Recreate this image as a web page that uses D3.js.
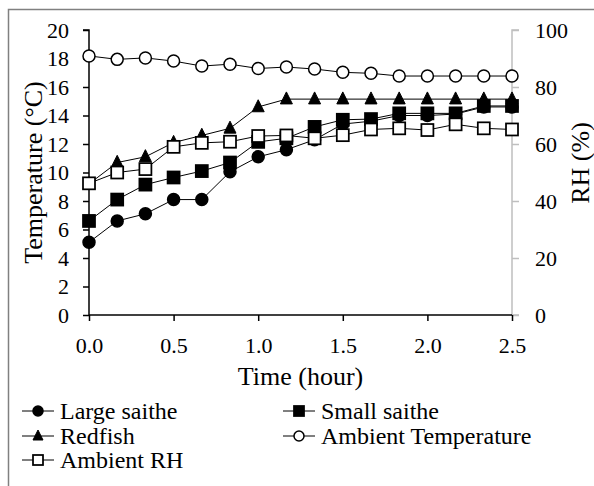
<!DOCTYPE html>
<html><head><meta charset="utf-8">
<script src="https://cdn.jsdelivr.net/npm/d3@7"></script>
</head><body style="margin:0">
<svg id="c" width="594" height="486"></svg>
<script>
const time = [0, 1/6, 2/6, 3/6, 4/6, 5/6, 1, 7/6, 8/6, 9/6, 10/6, 11/6, 2, 13/6, 14/6, 2.5];
const largeSaithe = [5.1, 6.6, 7.1, 8.1, 8.1, 10.05, 11.1, 11.6, 12.3, 13.4, 13.6, 14.0, 14.0, 14.1, 14.6, 14.6];
const smallSaithe = [6.6, 8.1, 9.15, 9.65, 10.1, 10.7, 12.15, 12.4, 13.2, 13.7, 13.75, 14.15, 14.15, 14.15, 14.67, 14.67];
const redfish = [9.2, 10.7, 11.1, 12.1, 12.6, 13.1, 14.6, 15.15, 15.15, 15.15, 15.15, 15.15, 15.15, 15.15, 15.15, 15.15];
const ambientTemp = [18.18, 17.94, 18.04, 17.82, 17.47, 17.6, 17.3, 17.4, 17.26, 17.03, 16.96, 16.77, 16.77, 16.77, 16.77, 16.77];
const ambientRH = [46.2, 50.0, 51.2, 59.0, 60.4, 60.8, 62.8, 63.0, 62.0, 63.1, 65.1, 65.5, 64.9, 66.9, 65.5, 65.1];
const xTicks = [0, 0.5, 1.0, 1.5, 2.0, 2.5];
const yLeftTicks = [0, 2, 4, 6, 8, 10, 12, 14, 16, 18, 20];
const yRightTicks = [0, 20, 40, 60, 80, 100];
const seriesNames = ["Large saithe", "Small saithe", "Redfish", "Ambient Temperature", "Ambient RH"];

const FONT = '"Liberation Serif"';
const svg = d3.select("#c");

// outer border
svg.append("rect").attr("x", 8.5).attr("y", 9.5).attr("width", 640).attr("height", 540)
  .attr("fill", "none").attr("stroke", "#808080").attr("stroke-width", 1.5);

const x = d3.scaleLinear().domain([0, 2.5]).range([89, 512]);
const yL = d3.scaleLinear().domain([0, 20]).range([315, 30]);
const yR = d3.scaleLinear().domain([0, 100]).range([315, 30]);

function styleText(sel, size) {
  sel.style("font-family", FONT).style("font-size", size + "px").attr("fill", "#000");
  return sel;
}

// right axis (gray)
const gR = svg.append("g").attr("transform", "translate(512,0)")
  .call(d3.axisRight(yR).tickValues(yRightTicks).tickSize(7).tickPadding(16).tickFormat(d3.format("d")));
gR.selectAll("path,line").attr("stroke", "#bfbfbf").attr("stroke-width", 1.5);
gR.select("path").attr("d", "M7,30H0V315H7");
styleText(gR.selectAll("text"), 22);

// bottom axis
const gB = svg.append("g").attr("transform", "translate(0,315)")
  .call(d3.axisBottom(x).tickValues(xTicks).tickSize(6).tickPadding(16).tickFormat(d3.format(".1f")));
gB.selectAll("path,line").attr("stroke", "#000").attr("stroke-width", 1.5);
gB.select("path").attr("d", "M89,0H512");
styleText(gB.selectAll("text"), 22);

// left axis
const gL = svg.append("g").attr("transform", "translate(89,0)")
  .call(d3.axisLeft(yL).tickValues(yLeftTicks).tickSize(6).tickPadding(14));
gL.selectAll("path,line").attr("stroke", "#000").attr("stroke-width", 1.5);
gL.select("path").attr("d", "M-6,30H0V315");
styleText(gL.selectAll("text"), 22);

// axis titles
styleText(svg.append("text").attr("transform", "translate(42,172.5) rotate(-90)").attr("text-anchor", "middle")
  .text("Temperature (°C)"), 26);
styleText(svg.append("text").attr("transform", "translate(589,163) rotate(-90)").attr("text-anchor", "middle")
  .text("RH (%)"), 26);
styleText(svg.append("text").attr("x", 300.5).attr("y", 385).attr("text-anchor", "middle")
  .text("Time (hour)"), 26);

function marker(g, type, cx, cy, s) {
  if (type === "circleF" || type === "circleO") {
    g.append("circle").attr("cx", cx).attr("cy", cy).attr("r", s / 2)
      .attr("fill", type === "circleF" ? "#000" : "#fff").attr("stroke", "#000").attr("stroke-width", 1.5);
  } else if (type === "squareF" || type === "squareO") {
    g.append("rect").attr("x", cx - s / 2).attr("y", cy - s / 2).attr("width", s).attr("height", s)
      .attr("fill", type === "squareF" ? "#000" : "#fff").attr("stroke", "#000").attr("stroke-width", 1.75);
  } else if (type === "tri") {
    const h = s;
    g.append("path").attr("d", `M${cx},${cy - h * 0.6}L${cx + s / 2},${cy + h * 0.4}L${cx - s / 2},${cy + h * 0.4}Z`)
      .attr("fill", "#000").attr("stroke", "#000").attr("stroke-width", 1);
  }
}

const series = [
  { name: seriesNames[0], vals: largeSaithe, y: yL, m: "circleF" },
  { name: seriesNames[1], vals: smallSaithe, y: yL, m: "squareF" },
  { name: seriesNames[2], vals: redfish, y: yL, m: "tri" },
  { name: seriesNames[3], vals: ambientTemp, y: yL, m: "circleO" },
  { name: seriesNames[4], vals: ambientRH, y: yR, m: "squareO" }
];

const plot = svg.append("g");
series.forEach(s => {
  const g = plot.append("g");
  const line = d3.line().x((d, i) => x(time[i])).y(d => s.y(d));
  g.append("path").datum(s.vals).attr("d", line).attr("fill", "none").attr("stroke", "#000").attr("stroke-width", 1);
  s.vals.forEach((v, i) => marker(g, s.m, x(time[i]), s.y(v), 12));
});

// legend
const legPos = [[22, 411], [283, 411], [22, 436], [283, 436], [22, 460]];
series.forEach((s, i) => {
  const [lx, ly] = legPos[i];
  const g = svg.append("g");
  g.append("line").attr("x1", lx).attr("x2", lx + 32).attr("y1", ly).attr("y2", ly).attr("stroke", "#000").attr("stroke-width", 1);
  marker(g, s.m, lx + 16, ly, 10);
  styleText(g.append("text").attr("x", lx + 38).attr("y", ly).attr("dy", "0.33em").text(s.name), 24);
});
</script>
</body></html>
